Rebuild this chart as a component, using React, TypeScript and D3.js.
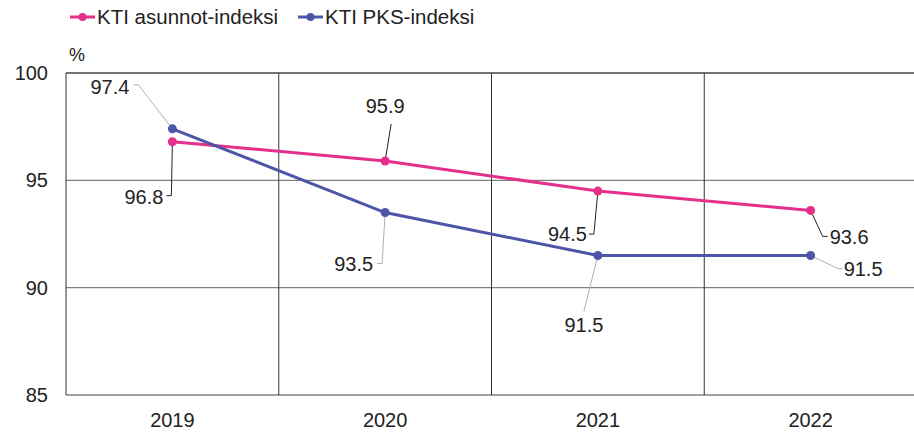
import React from 'react';
import * as d3 from 'd3';

const years = ['2019', '2020', '2021', '2022'];
const asunnot = [96.8, 95.9, 94.5, 93.6];
const pks = [97.4, 93.5, 91.5, 91.5];
const yTicks = [85, 90, 95, 100];
const seriesNames = ['KTI asunnot-indeksi', 'KTI PKS-indeksi'];

const PINK = '#e5308b';
const BLUE = '#4d55a6';

// leader line placement per point: elbow offset, hook, text anchor
type Lbl = { ex: number; ey: number; hook: number; tx: number; ty: number; anchor: string };
const pinkLabels: Lbl[] = [
  { ex: -1, ey: 54, hook: -5, tx: -9, ty: 55, anchor: 'end' },
  { ex: 6, ey: -37, hook: 0, tx: 0, ty: -55, anchor: 'middle' },
  { ex: -4, ey: 43, hook: -5, tx: -11, ty: 43, anchor: 'end' },
  { ex: 12, ey: 26, hook: 5, tx: 19, ty: 27, anchor: 'start' },
];
const blueLabels: Lbl[] = [
  { ex: -34, ey: -44, hook: -5, tx: -43, ty: -42, anchor: 'end' },
  { ex: -3, ey: 51, hook: -5, tx: -12, ty: 51, anchor: 'end' },
  { ex: -14, ey: 56, hook: 0, tx: -14, ty: 70, anchor: 'middle' },
  { ex: 27, ey: 13, hook: 5, tx: 33, ty: 14, anchor: 'start' },
];

const W = 914;
const H = 432;
const left = 66;
const right = 917;
const top = 73;
const bottom = 395;

export default function App() {
  const x = d3.scaleBand<string>().domain(years).range([left, right]);
  const y = d3.scaleLinear().domain([85, 100]).range([bottom, top]);
  const cx = (d: string) => (x(d) as number) + x.bandwidth() / 2;
  const line = d3
    .line<number>()
    .x((_, i) => cx(years[i]))
    .y((v) => y(v));

  const font = 'Liberation Sans, Arial, sans-serif';
  const series = [
    { name: seriesNames[0], values: asunnot, color: PINK, labels: pinkLabels, leader: '#222' },
    { name: seriesNames[1], values: pks, color: BLUE, labels: blueLabels, leader: '#b0b0b0' },
  ];

  return (
    <svg
      width={W}
      height={H}
      style={{ position: 'absolute', left: 0, top: 0, background: '#fff' }}
      fontFamily={font}
    >
      {/* legend */}
      {series.map((s, i) => {
        const lx = i === 0 ? 70 : 298;
        return (
          <g key={s.name}>
            <line x1={lx} x2={lx + 25} y1={17} y2={17} stroke={s.color} strokeWidth={3} />
            <circle cx={lx + 12.5} cy={17} r={4} fill={s.color} />
            <text x={lx + 27} y={17} dy="0.35em" fontSize={20.5} fill="#222">
              {s.name}
            </text>
          </g>
        );
      })}
      <text x={69} y={55} dy="0.35em" fontSize={18} fill="#222">%</text>

      {/* horizontal grid */}
      {yTicks.map((t) => (
        <g key={t}>
          <line
            x1={left}
            x2={right}
            y1={y(t)}
            y2={y(t)}
            stroke={t === 100 ? '#444' : '#808080'}
            strokeWidth={1.3}
          />
          <text x={48} y={y(t)} dy="0.35em" textAnchor="end" fontSize={20} fill="#222">
            {t}
          </text>
        </g>
      ))}
      {/* vertical grid */}
      {years.map((yr) => (
        <line
          key={yr}
          x1={x(yr) as number}
          x2={x(yr) as number}
          y1={top}
          y2={bottom}
          stroke="#333"
          strokeWidth={1}
        />
      ))}
      {years.map((yr) => (
        <text key={yr} x={cx(yr)} y={420} dy="0.35em" textAnchor="middle" fontSize={20} fill="#222">
          {yr}
        </text>
      ))}

      {/* leader lines */}
      {series.map((s) =>
        s.values.map((v, i) => {
          const px = cx(years[i]);
          const py = y(v);
          const l = s.labels[i];
          return (
            <polyline
              key={s.name + i}
              points={`${px},${py} ${px + l.ex},${py + l.ey} ${px + l.ex + l.hook},${py + l.ey}`}
              fill="none"
              stroke={s.leader}
              strokeWidth={1}
            />
          );
        })
      )}

      {/* lines and markers */}
      {series.map((s) => (
        <g key={s.name}>
          <path d={line(s.values) || ''} fill="none" stroke={s.color} strokeWidth={3} />
          {s.values.map((v, i) => (
            <circle key={i} cx={cx(years[i])} cy={y(v)} r={4.5} fill={s.color} />
          ))}
        </g>
      ))}

      {/* data labels */}
      {series.map((s) =>
        s.values.map((v, i) => {
          const l = s.labels[i];
          return (
            <text
              key={s.name + 't' + i}
              x={cx(years[i]) + l.tx}
              y={y(v) + l.ty}
              dy="0.35em"
              textAnchor={l.anchor}
              fontSize={20}
              fill="#222"
            >
              {v.toFixed(1)}
            </text>
          );
        })
      )}
    </svg>
  );
}
